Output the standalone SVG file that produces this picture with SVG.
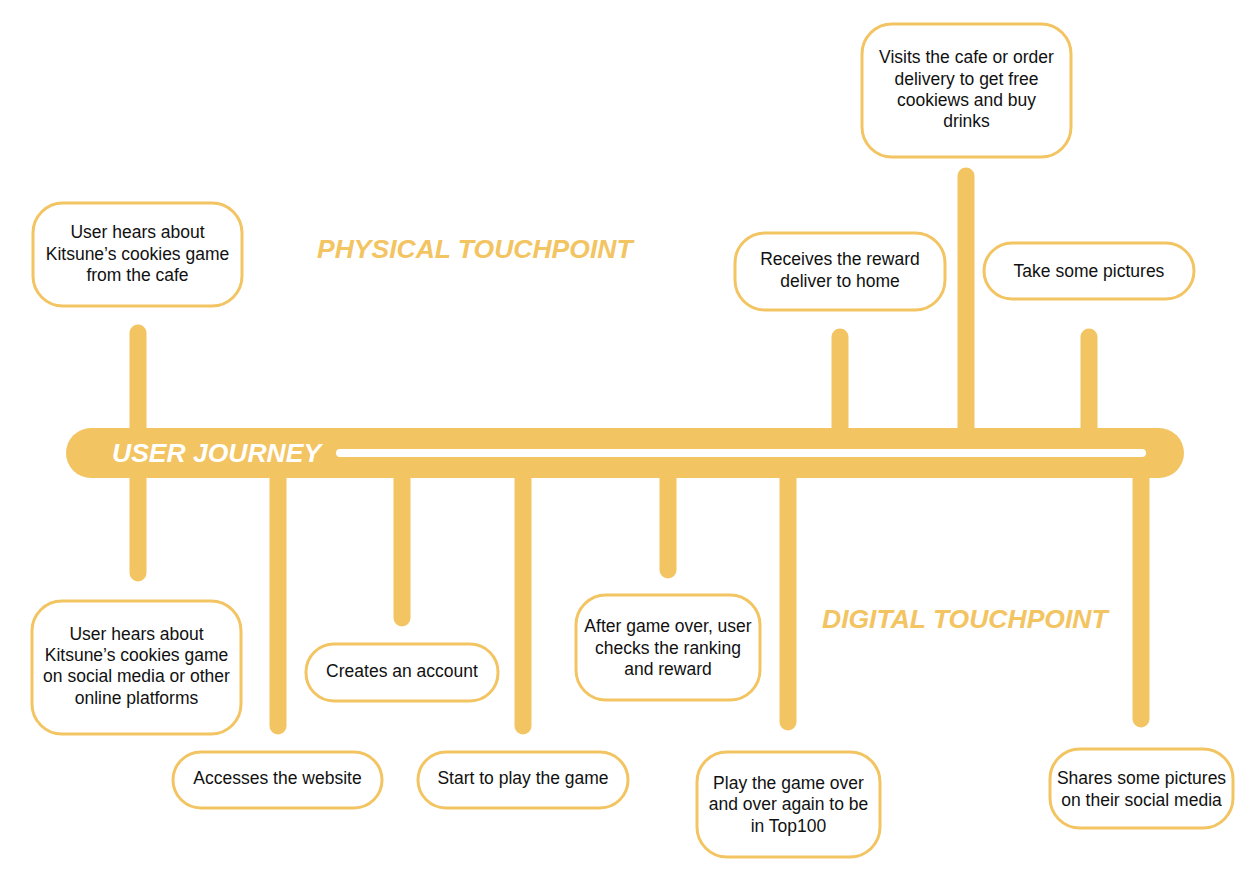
<svg xmlns="http://www.w3.org/2000/svg" width="1250" height="884" viewBox="0 0 1250 884">
<style>
.box{fill:#ffffff;stroke:#F3C462;stroke-width:3}
.t{font-family:"Liberation Sans",Arial,sans-serif;font-size:17.5px;fill:#111111;text-anchor:middle}
.h{font-family:"Liberation Sans",Arial,sans-serif;font-size:26.5px;font-weight:bold;font-style:italic;fill:#F3C462}
.stem{stroke:#F3C462;stroke-width:17;stroke-linecap:round;fill:none}
</style>
<rect width="1250" height="884" fill="#ffffff"/>
<g id="connectors">
<line class="stem" x1="138" y1="333" x2="138" y2="573"/>
<line class="stem" x1="278" y1="453" x2="278" y2="726"/>
<line class="stem" x1="402" y1="453" x2="402" y2="618"/>
<line class="stem" x1="523" y1="453" x2="523" y2="726"/>
<line class="stem" x1="668" y1="453" x2="668" y2="570"/>
<line class="stem" x1="788" y1="453" x2="788" y2="722"/>
<line class="stem" x1="840" y1="337" x2="840" y2="453"/>
<line class="stem" x1="966" y1="176" x2="966" y2="453"/>
<line class="stem" x1="1089" y1="337" x2="1089" y2="453"/>
<line class="stem" x1="1141" y1="453" x2="1141" y2="719"/>
</g>
<g id="journey-bar">
<rect x="66" y="428" width="1118" height="50" rx="25" fill="#F3C462"/>
<line x1="340" y1="453" x2="1142" y2="453" stroke="#ffffff" stroke-width="8" stroke-linecap="round"/>
<text x="112" y="462" class="h" style="fill:#ffffff">USER JOURNEY</text>
</g>
<g id="label-physical"><text x="317" y="258" class="h">PHYSICAL TOUCHPOINT</text></g>
<g id="label-digital"><text x="822" y="628" class="h">DIGITAL TOUCHPOINT</text></g>
<g id="n-hears-cafe">
<rect class="box" x="33" y="203" width="209" height="103" rx="30"/>
<text class="t" x="137.5" y="238">User hears about</text>
<text class="t" x="137.5" y="259.5">Kitsune’s cookies game</text>
<text class="t" x="137.5" y="281">from the cafe</text>
</g>
<g id="n-visits">
<rect class="box" x="862" y="24" width="209" height="133" rx="30"/>
<text class="t" x="966.5" y="63">Visits the cafe or order</text>
<text class="t" x="966.5" y="84.5">delivery to get free</text>
<text class="t" x="966.5" y="106">cookiews and buy</text>
<text class="t" x="966.5" y="127">drinks</text>
</g>
<g id="n-receives">
<rect class="box" x="735" y="233" width="210" height="77" rx="30"/>
<text class="t" x="840" y="265">Receives the reward</text>
<text class="t" x="840" y="286.5">deliver to home</text>
</g>
<g id="n-pictures">
<rect class="box" x="984" y="243" width="210" height="56" rx="28"/>
<text class="t" x="1089" y="277">Take some pictures</text>
</g>
<g id="n-hears-social">
<rect class="box" x="32" y="601" width="209" height="133" rx="30"/>
<text class="t" x="136.5" y="639.5">User hears about</text>
<text class="t" x="136.5" y="661">Kitsune’s cookies game</text>
<text class="t" x="136.5" y="682">on social media or other</text>
<text class="t" x="136.5" y="703.5">online platforms</text>
</g>
<g id="n-website">
<rect class="box" x="173" y="752" width="209" height="56" rx="28"/>
<text class="t" x="277.5" y="784">Accesses the website</text>
</g>
<g id="n-account">
<rect class="box" x="306" y="644" width="192" height="57" rx="28"/>
<text class="t" x="402" y="677">Creates an account</text>
</g>
<g id="n-play">
<rect class="box" x="418" y="752" width="210" height="56" rx="28"/>
<text class="t" x="523" y="784">Start to play the game</text>
</g>
<g id="n-ranking">
<rect class="box" x="576" y="595" width="184" height="105" rx="30"/>
<text class="t" x="668" y="632">After game over, user</text>
<text class="t" x="668" y="653.5">checks the ranking</text>
<text class="t" x="668" y="675">and reward</text>
</g>
<g id="n-again">
<rect class="box" x="697" y="752" width="183" height="105" rx="30"/>
<text class="t" x="788.5" y="788.5">Play the game over</text>
<text class="t" x="788.5" y="810">and over again to be</text>
<text class="t" x="788.5" y="831.5">in Top100</text>
</g>
<g id="n-shares">
<rect class="box" x="1050" y="749" width="183" height="79" rx="30"/>
<text class="t" x="1141.5" y="784">Shares some pictures</text>
<text class="t" x="1141.5" y="805.5">on their social media</text>
</g>
</svg>
